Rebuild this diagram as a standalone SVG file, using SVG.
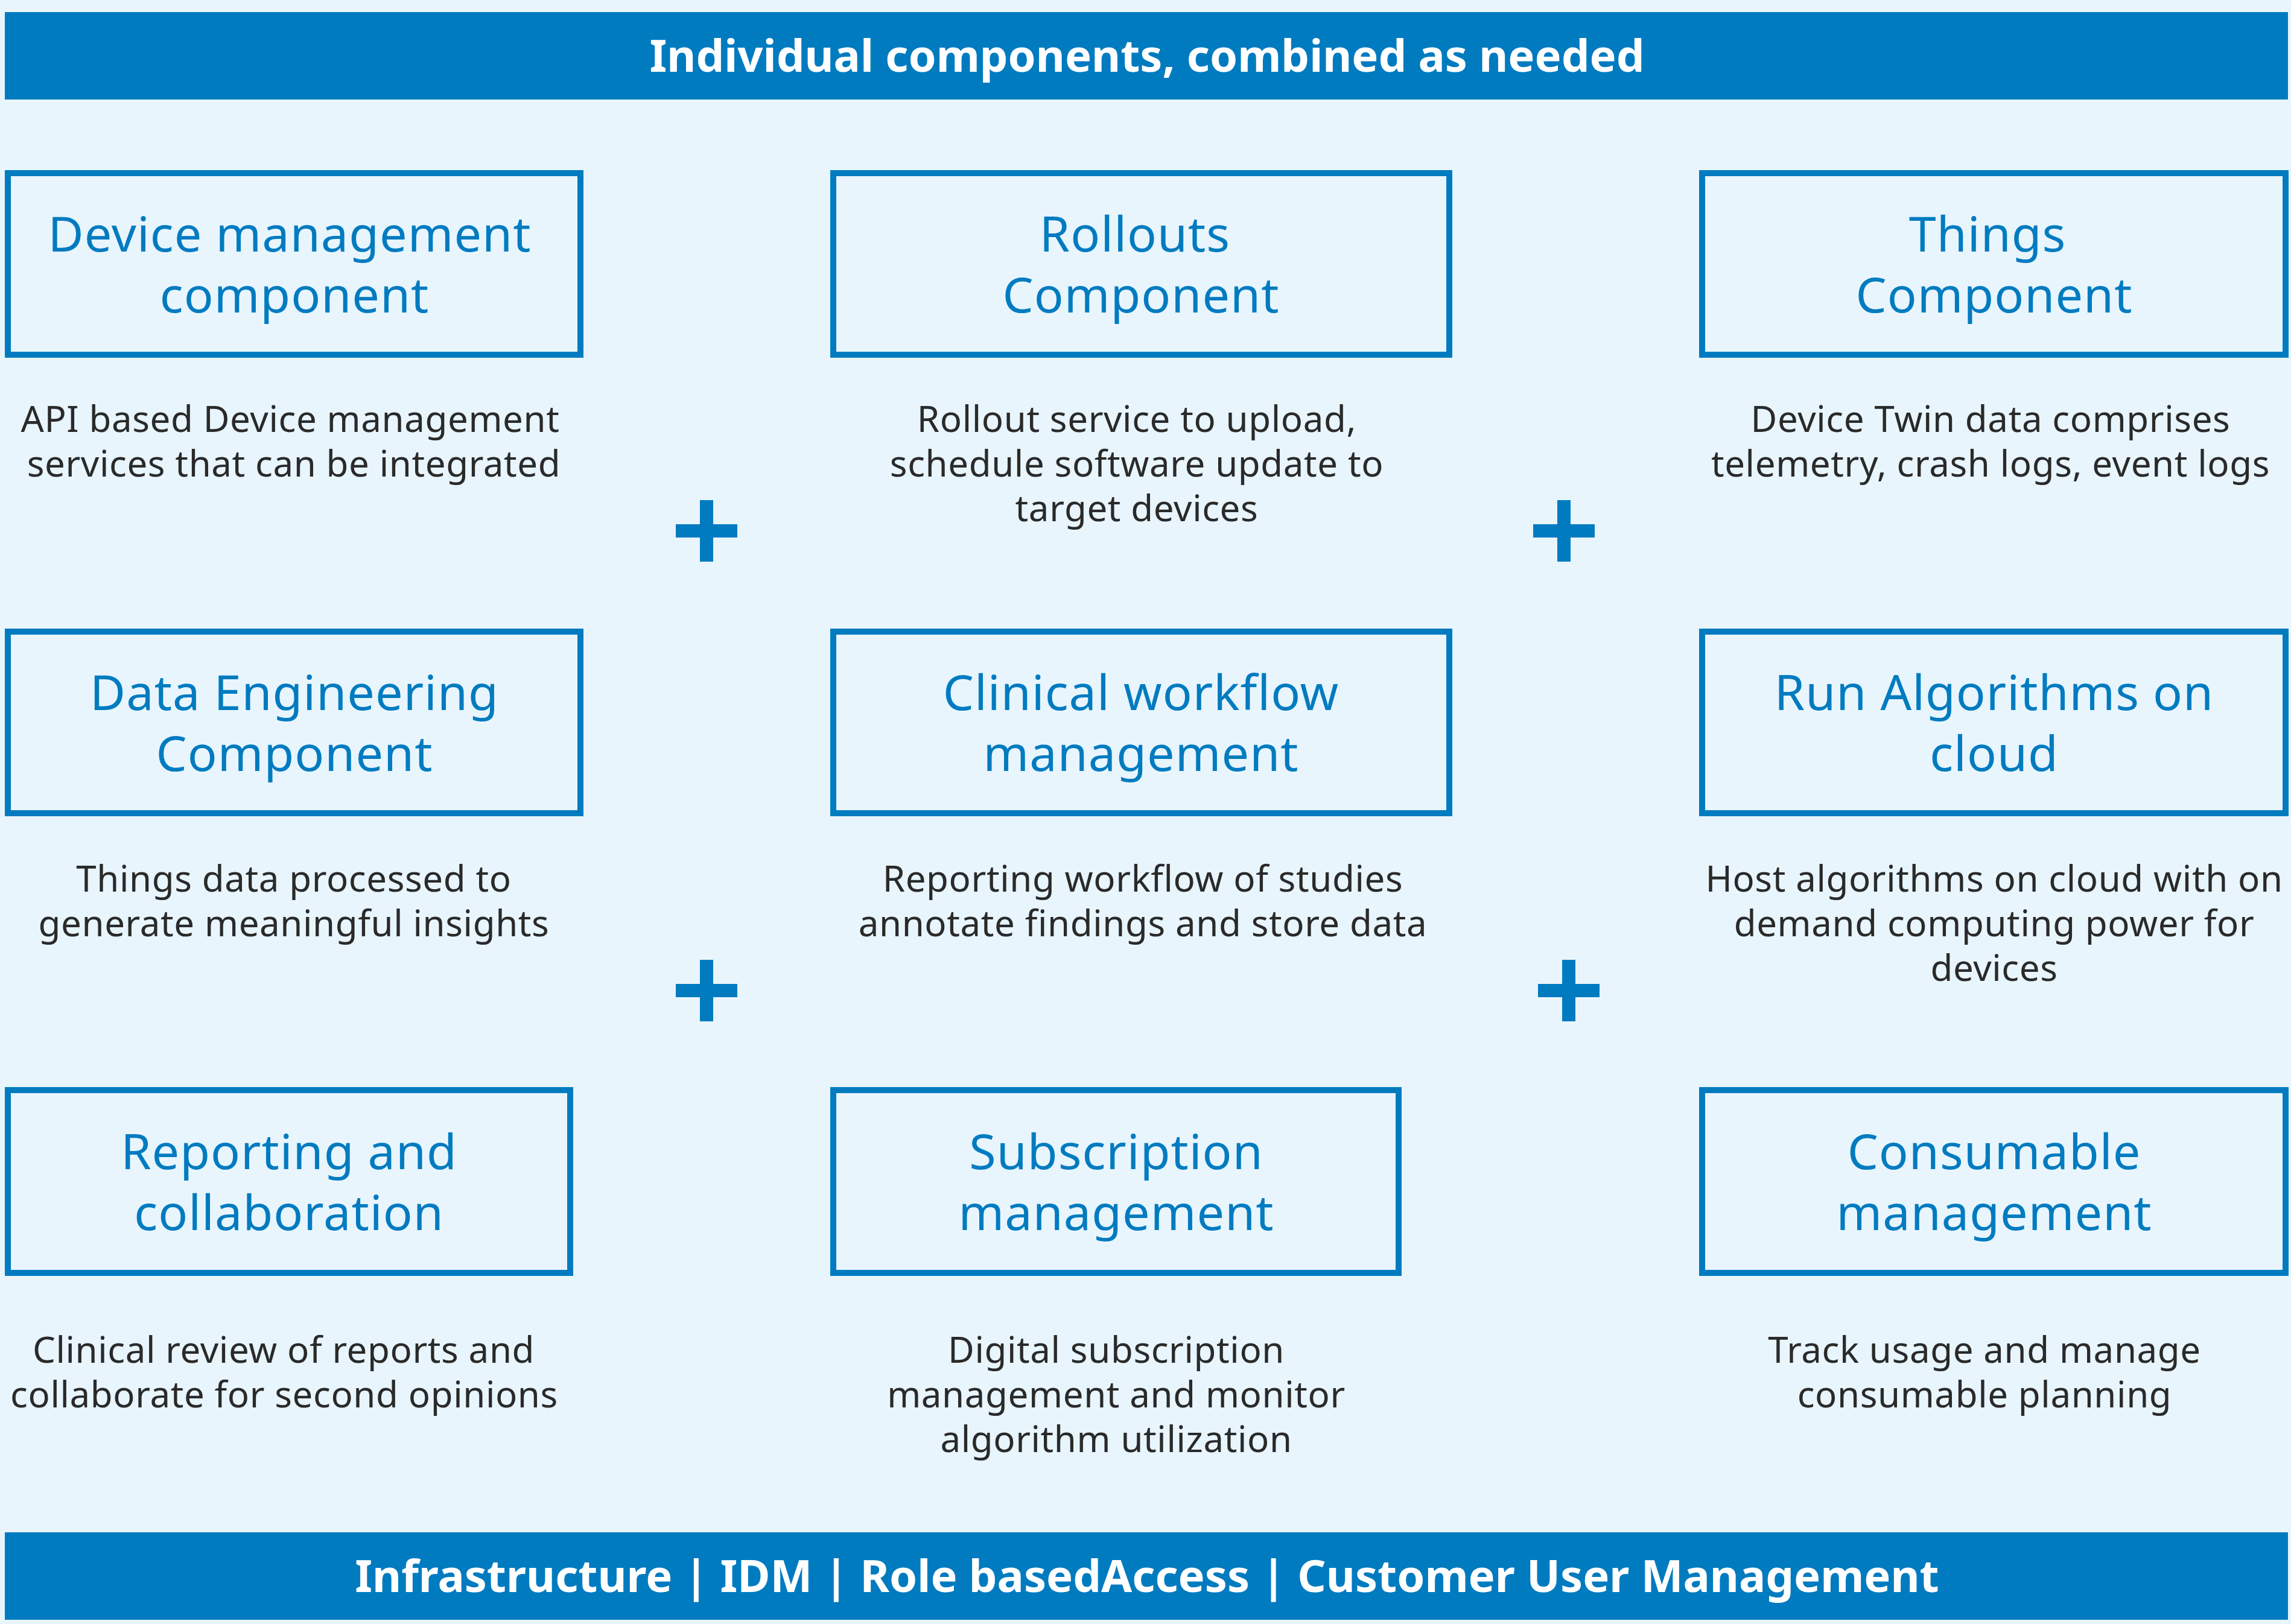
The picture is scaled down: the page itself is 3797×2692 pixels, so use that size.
<svg xmlns="http://www.w3.org/2000/svg" width="3797" height="2692" viewBox="0 0 3797 2692">
<defs>
<style>
.bar{fill:#007BC0}
.box{fill:none;stroke:#007BC0;stroke-width:10}
.band{font-family:"Noto Sans","Open Sans","Liberation Sans",sans-serif;font-weight:700;font-size:74px;fill:#FFFFFF;text-anchor:middle}
.title{font-family:"Noto Sans","Open Sans","Liberation Sans",sans-serif;font-size:81px;letter-spacing:1px;fill:#007BC0;text-anchor:middle}
.desc{font-family:"Noto Sans","Open Sans","Liberation Sans",sans-serif;font-size:60px;letter-spacing:0.6px;fill:#2A2A2A;text-anchor:middle}
.plus{fill:#007BC0}
</style>
<g id="plusShape">
<rect x="-51" y="-11" width="102" height="22"/>
<rect x="-11" y="-51" width="22" height="102"/>
</g>
</defs>
<rect x="0" y="0" width="3797" height="2692" fill="#E8F5FD"/>

<g id="header">
<rect class="bar" x="8" y="20" width="3784" height="145"/>
<text class="band" x="1901" y="119">Individual components, combined as needed</text>
</g>

<g id="node-device-management">
<rect class="box" x="13" y="287" width="949" height="301"/>
<text class="title" x="480" y="417">Device management</text>
<text class="title" x="488" y="518">component</text>
<text class="desc" x="481" y="716">API based Device management</text>
<text class="desc" x="487" y="790">services that can be integrated</text>
</g>

<g id="node-rollouts">
<rect class="box" x="1381" y="287" width="1021" height="301"/>
<text class="title" x="1881" y="417">Rollouts</text>
<text class="title" x="1891" y="518">Component</text>
<text class="desc" x="1884" y="716">Rollout service to upload,</text>
<text class="desc" x="1884" y="790">schedule software update to</text>
<text class="desc" x="1884" y="864">target devices</text>
</g>

<g id="node-things">
<rect class="box" x="2821" y="287" width="967" height="301"/>
<text class="title" x="3294" y="417">Things</text>
<text class="title" x="3305" y="518">Component</text>
<text class="desc" x="3299" y="716">Device Twin data comprises</text>
<text class="desc" x="3299" y="790">telemetry, crash logs, event logs</text>
</g>

<g id="node-data-engineering">
<rect class="box" x="13" y="1047" width="949" height="301"/>
<text class="title" x="488" y="1177">Data Engineering</text>
<text class="title" x="488" y="1278">Component</text>
<text class="desc" x="487" y="1478">Things data processed to</text>
<text class="desc" x="487" y="1552">generate meaningful insights</text>
</g>

<g id="node-clinical-workflow">
<rect class="box" x="1381" y="1047" width="1021" height="301"/>
<text class="title" x="1891" y="1177">Clinical workflow</text>
<text class="title" x="1891" y="1278">management</text>
<text class="desc" x="1894" y="1478">Reporting workflow of studies</text>
<text class="desc" x="1894" y="1552">annotate findings and store data</text>
</g>

<g id="node-run-algorithms">
<rect class="box" x="2821" y="1047" width="967" height="301"/>
<text class="title" x="3305" y="1177">Run Algorithms on</text>
<text class="title" x="3305" y="1278">cloud</text>
<text class="desc" x="3305" y="1478">Host algorithms on cloud with on</text>
<text class="desc" x="3305" y="1552">demand computing power for</text>
<text class="desc" x="3305" y="1626">devices</text>
</g>

<g id="node-reporting">
<rect class="box" x="13" y="1807" width="932" height="303"/>
<text class="title" x="479" y="1938">Reporting and</text>
<text class="title" x="479" y="2039">collaboration</text>
<text class="desc" x="470" y="2259">Clinical review of reports and</text>
<text class="desc" x="471" y="2333">collaborate for second opinions</text>
</g>

<g id="node-subscription">
<rect class="box" x="1381" y="1807" width="937" height="303"/>
<text class="title" x="1850" y="1938">Subscription</text>
<text class="title" x="1850" y="2039">management</text>
<text class="desc" x="1850" y="2259">Digital subscription</text>
<text class="desc" x="1850" y="2333">management and monitor</text>
<text class="desc" x="1850" y="2407">algorithm utilization</text>
</g>

<g id="node-consumable">
<rect class="box" x="2821" y="1807" width="967" height="303"/>
<text class="title" x="3305" y="1938">Consumable</text>
<text class="title" x="3305" y="2039">management</text>
<text class="desc" x="3289" y="2259">Track usage and manage</text>
<text class="desc" x="3289" y="2333">consumable planning</text>
</g>

<g id="connectors" class="plus">
<use href="#plusShape" x="1171" y="880"/>
<use href="#plusShape" x="2592" y="880"/>
<use href="#plusShape" x="1171" y="1642"/>
<use href="#plusShape" x="2600" y="1642"/>
</g>

<g id="footer">
<rect class="bar" x="8" y="2540" width="3784" height="145"/>
<text class="band" x="1901" y="2639">Infrastructure | IDM | Role basedAccess | Customer User Management</text>
</g>
</svg>
